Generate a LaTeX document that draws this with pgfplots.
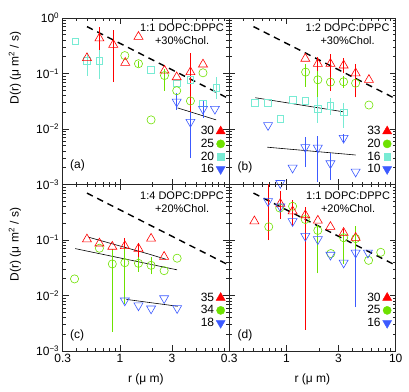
\documentclass[border=0pt]{standalone}
\usepackage{fontspec}
\setmainfont{Liberation Sans}
\usepackage{pgfplots}
\pgfplotsset{compat=1.18}
\usepgfplotslibrary{groupplots}

\definecolor{cred}{RGB}{255,0,0}
\definecolor{cgreen}{RGB}{110,225,0}
\definecolor{ccyan}{RGB}{120,235,212}
\definecolor{cblue}{RGB}{60,90,255}

\newcommand{\sps}[1]{10\textsuperscript{#1}}

\tikzset{
  comp/.style={align=center, font=\fontsize{11}{13.5}\selectfont, inner sep=0pt},
  plab/.style={anchor=west, font=\fontsize{12}{12}\selectfont, inner sep=0pt},
}

\pgfplotsset{
  panel/.style={
    xmode=log, ymode=log, xmin=0.3, xmax=10, ymin=1e-3, ymax=1,
    scale only axis, width=166.5pt, height=166.5pt,
    xtick={0.3,1,3,10}, xticklabels={0.3,1,3,10},
    minor xtick={0.4,0.5,0.6,0.7,0.8,0.9,2,4,5,6,7,8,9},
    ytick={0.001,0.01,0.1,1},
    yticklabels={\sps{−3},\sps{−2},\sps{−1},\sps{0}},
    minor ytick={0.002,0.003,0.004,0.005,0.006,0.007,0.008,0.009,
                 0.02,0.03,0.04,0.05,0.06,0.07,0.08,0.09,
                 0.2,0.3,0.4,0.5,0.6,0.7,0.8,0.9},
    tick align=inside, major tick length=6pt, minor tick length=3pt,
    axis line style={line width=0.8pt, black!85},
    every tick/.style={black!85, line width=0.6pt},
    ticklabel style={font=\fontsize{12}{12}\selectfont},
    label style={font=\fontsize{12}{12}\selectfont},
    legend style={draw=none, fill=none, at={(axis description cs:0.995,0.375)},
      anchor=north east, font=\fontsize{12}{12}\selectfont, row sep=-1.2pt,
      /tikz/every even column/.append style={column sep=0pt}},
    legend plot pos=right, legend cell align=right,
    legend image code/.code={\draw[#1] plot coordinates {(0.33cm,0cm)};},
  },
  ptR/.style={only marks, mark=triangle, mark size=5.2pt, cred, mark options={line width=0.6pt}, forget plot},
  ptG/.style={only marks, mark=o, mark size=4.1pt, cgreen, mark options={line width=0.6pt}, forget plot},
  ptC/.style={only marks, mark=square, mark size=3.3pt, ccyan, mark options={line width=0.6pt}, forget plot},
  ptB/.style={only marks, mark=triangle, mark size=5.2pt, cblue, mark options={rotate=180, line width=0.6pt}, forget plot},
  ebar/.style={#1, line width=0.9pt, forget plot, unbounded coords=jump},
  dashref/.style={black, line width=1.4pt, dash pattern=on 6.5pt off 5pt, forget plot},
  fitline/.style={black, line width=0.6pt, forget plot},
  lgR/.style={only marks, mark=triangle*, mark size=5.2pt, cred},
  lgG/.style={only marks, mark=*, mark size=4.1pt, cgreen},
  lgC/.style={only marks, mark=square*, mark size=3.3pt, ccyan},
  lgB/.style={only marks, mark=triangle*, mark size=5.2pt, cblue, mark options={rotate=180}},
}

\begin{document}
\begin{tikzpicture}
\begin{groupplot}[group style={group size=2 by 2, horizontal sep=0pt, vertical sep=0pt}, panel]

% ---------------- (a) ----------------
\nextgroupplot[xticklabels={},
  ylabel={D(r) (μ m\textsuperscript{2} / s)},
  ylabel style={at={(axis description cs:-0.287,0.70)}, anchor=center}]
\addplot[dashref] coordinates {(0.5,0.70) (10,0.035)};
\addplot[fitline] coordinates {(3.37,0.024) (7.6,0.0146)};
\addplot[ebar=cred] coordinates {(0.65,0.08) (0.65,0.69) (0.65,nan) (0.87,0.07) (0.87,0.6) (0.87,nan) (4.42,0.006) (4.42,0.23)};
\addplot[ebar=cgreen] coordinates {(2.56,0.049) (2.56,0.12) (2.56,nan) (1.48,0.13) (1.48,0.17)};
\addplot[ebar=ccyan] coordinates {(0.50,0.092) (0.50,0.23) (0.50,nan) (0.65,0.08) (0.65,0.26) (0.65,nan) (7.6,0.035) (7.6,0.085)};
\addplot[ebar=cblue] coordinates {(3.31,0.022) (3.31,0.045) (3.31,nan) (4.42,0.003) (4.42,0.02) (4.42,nan) (5.76,0.016) (5.76,0.033)};
\addplot[ptC] coordinates {(0.39,0.38) (0.50,0.17) (0.65,0.17) (1.93,0.118) (3.31,0.067) (4.42,0.077) (5.76,0.029) (7.6,0.055)};
\addplot[ptG] coordinates {(1.11,0.21) (1.48,0.15) (1.93,0.0146) (2.56,0.092) (3.31,0.049) (4.42,0.032) (5.76,0.103)};
\addplot[ptR] coordinates {(0.50,0.19) (0.65,0.43) (0.87,0.33) (1.12,0.156) (1.48,0.46) (2.56,0.113) (3.31,0.086) (4.42,0.106) (5.76,0.146)};
\addplot[ptB] coordinates {(3.31,0.031) (4.42,0.0134) (5.76,0.023) (7.4,0.023)};
\addlegendimage{lgR}\addlegendentry{30}
\addlegendimage{lgG}\addlegendentry{25}
\addlegendimage{lgC}\addlegendentry{20}
\addlegendimage{lgB}\addlegendentry{16}
\node[comp] at (rel axis cs:0.717,0.904) {1:1 DOPC:DPPC\\+30\%Chol.};
\node[plab] at (rel axis cs:0.044,0.114) {(a)};

% ---------------- (b) ----------------
\nextgroupplot[xticklabels={}, yticklabels={}]
\addplot[dashref] coordinates {(0.5,0.70) (10,0.035)};
\addplot[fitline] coordinates {(0.52,0.0366) (3.33,0.0204)};
\addplot[fitline] coordinates {(0.67,0.0047) (4.3,0.0034)};
\addplot[ebar=cred] coordinates {(1.94,0.11) (1.94,0.2) (1.94,nan) (2.53,0.049) (2.53,0.228) (2.53,nan) (3.34,0.10) (3.34,0.19) (3.34,nan) (4.30,0.037) (4.30,0.15)};
\addplot[ebar=cgreen] coordinates {(1.5,0.058) (1.5,0.15) (1.5,nan) (1.94,0.014) (1.94,0.113) (1.94,nan) (3.34,0.055) (3.34,0.09)};
\addplot[ebar=ccyan] coordinates {(1.94,0.013) (1.94,0.037) (1.94,nan) (2.53,0.018) (2.53,0.036) (2.53,nan) (3.34,0.0105) (3.34,0.030)};
\addplot[ebar=cblue] coordinates {(1.49,0.0021) (1.49,0.0072) (1.49,nan) (1.94,0.0011) (1.94,0.0075) (1.94,nan) (2.53,0.0012) (2.53,0.0037) (2.53,nan) (3.34,0.0058) (3.34,0.0082)};
\addplot[ptC] coordinates {(0.515,0.030) (0.675,0.030) (0.88,0.0154) (1.14,0.034) (1.49,0.032) (1.94,0.023) (2.53,0.026) (3.34,0.020)};
\addplot[ptG] coordinates {(1.5,0.106) (1.94,0.077) (2.53,0.07) (3.34,0.071) (4.30,0.067) (5.69,0.027)};
\addplot[ptR] coordinates {(1.49,0.185) (1.94,0.15) (2.53,0.15) (3.34,0.14) (4.30,0.101) (5.69,0.077)};
\addplot[ptB] coordinates {(0.68,0.0117) (0.88,0.00106) (1.14,0.002) (1.49,0.0047) (1.94,0.0046) (2.53,0.0024) (3.34,0.0069) (4.30,0.0017)};
\addlegendimage{lgR}\addlegendentry{33}
\addlegendimage{lgG}\addlegendentry{20}
\addlegendimage{lgC}\addlegendentry{16}
\addlegendimage{lgB}\addlegendentry{10}
\node[comp] at (rel axis cs:0.711,0.904) {1:2 DOPC:DPPC\\+30\%Chol.};
\node[plab] at (rel axis cs:0.05,0.10) {(b)};

% ---------------- (c) ----------------
\nextgroupplot[xticklabels={0.3,1,3,{}},
  yticklabels={\sps{−3},\sps{−2},\sps{−1},{}},
  ylabel={D(r) (μ m\textsuperscript{2} / s)},
  ylabel style={at={(axis description cs:-0.287,0.64)}, anchor=center},
  xlabel={r (μ m)},
  xlabel style={at={(axis description cs:0.5,-0.173)}, anchor=center}]
\addplot[dashref] coordinates {(0.5,0.70) (10,0.035)};
\addplot[fitline] coordinates {(0.52,0.112) (1.83,0.056) (2.64,0.045)};
\addplot[fitline] coordinates {(0.39,0.070) (3.34,0.029)};
\addplot[fitline] coordinates {(1.15,0.0085) (3.37,0.0064)};
\addplot[ebar=cred] coordinates {(1.11,0.042) (1.11,0.11) (1.11,nan) (1.48,0.045) (1.48,0.09)};
\addplot[ebar=cgreen] coordinates {(0.853,0.0022) (0.853,0.068) (0.853,nan) (1.11,0.0071) (1.11,0.073) (1.11,nan) (1.48,0.027) (1.48,0.05) (1.48,nan) (1.93,0.024) (1.93,0.05)};
\addplot[ptG] coordinates {(0.385,0.0199) (0.65,0.071) (0.853,0.037) (1.11,0.039) (1.48,0.038) (1.93,0.035) (2.54,0.028) (3.34,0.047)};
\addplot[ptR] coordinates {(0.50,0.103) (0.65,0.087) (0.853,0.076) (1.11,0.078) (1.48,0.070) (1.93,0.106) (2.54,0.050)};
\addplot[ptB] coordinates {(1.11,0.0081) (1.48,0.0066) (1.93,0.0058) (2.54,0.0089) (3.34,0.0059)};
\addlegendimage{lgR}\addlegendentry{35}
\addlegendimage{lgG}\addlegendentry{34}
\addlegendimage{lgB}\addlegendentry{18}
\node[comp] at (rel axis cs:0.717,0.893) {1:4 DOPC:DPPC\\+20\%Chol.};
\node[plab] at (rel axis cs:0.044,0.095) {(c)};

% ---------------- (d) ----------------
\nextgroupplot[yticklabels={},
  xlabel={r (μ m)},
  xlabel style={at={(axis description cs:0.5,-0.173)}, anchor=center}]
\addplot[dashref] coordinates {(0.5,0.70) (10,0.035)};
\addplot[ebar=cred] coordinates {(0.68,0.10) (0.68,1.5) (0.68,nan) (0.88,0.24) (0.88,0.75) (0.88,nan) (1.14,0.178) (1.14,0.53) (1.14,nan) (1.49,0.0024) (1.49,0.40) (1.49,nan) (3.34,0.11) (3.34,0.16)};
\addplot[ebar=cgreen] coordinates {(1.94,0.025) (1.94,0.19) (1.94,nan) (3.34,0.037) (3.34,0.135) (3.34,nan) (4.30,0.06) (4.30,0.18)};
\addplot[ebar=cblue] coordinates {(4.30,0.0062) (4.30,0.07)};
\addplot[ptG] coordinates {(0.69,0.173) (0.87,0.377) (1.14,0.405) (1.49,0.234) (1.94,0.149) (2.55,0.057) (3.34,0.11) (4.30,0.106) (5.65,0.043) (7.3,0.06)};
\addplot[ptR] coordinates {(0.51,0.218) (0.88,0.45) (1.14,0.33) (1.49,0.28) (1.94,0.224) (2.53,0.173) (3.34,0.135) (4.30,0.11)};
\addplot[ptB] coordinates {(0.68,0.50) (0.88,0.40) (1.14,0.218) (1.49,0.118) (1.94,0.103) (2.53,0.054) (3.34,0.039) (4.30,0.059) (5.57,0.059)};
\addlegendimage{lgR}\addlegendentry{30}
\addlegendimage{lgG}\addlegendentry{25}
\addlegendimage{lgB}\addlegendentry{16}
\node[comp] at (rel axis cs:0.714,0.895) {1:1 DOPC:DPPC\\+20\%Chol.};
\node[plab] at (rel axis cs:0.05,0.095) {(d)};
\end{groupplot}
\path ([xshift=-62.7pt,yshift=18pt]group c1r1.north west) rectangle ([xshift=13.3pt,yshift=-41pt]group c2r2.south east);
\end{tikzpicture}
\end{document}
